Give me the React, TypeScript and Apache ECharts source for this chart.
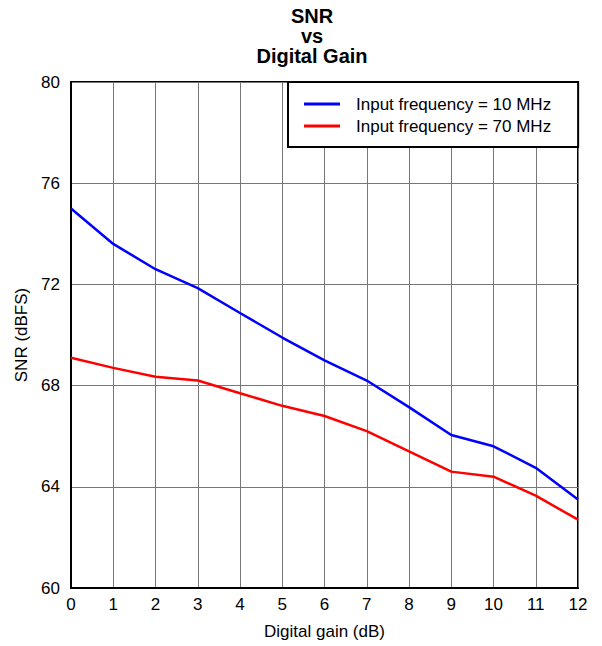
import React, { useEffect, useRef } from "react";
import * as echarts from "echarts";

const gainDb = [0, 1, 2, 3, 4, 5, 6, 7, 8, 9, 10, 11, 12];
const snr10MHz = [75.0, 73.6, 72.6, 71.85, 70.87, 69.9, 69.0, 68.2, 67.15, 66.05, 65.6, 64.75, 63.5];
const snr70MHz = [69.1, 68.7, 68.35, 68.2, 67.7, 67.2, 66.8, 66.2, 65.4, 64.6, 64.4, 63.65, 62.7];
const seriesNames = ["Input frequency = 10 MHz", "Input frequency = 70 MHz"];
const titleText = "SNR\nvs\nDigital Gain";

const FONT = "'Liberation Sans', Arial, Helvetica, sans-serif";

export default function App() {
  const ref = useRef<HTMLDivElement>(null);
  useEffect(() => {
    if (!ref.current) return;
    const chart = echarts.init(ref.current, undefined, { renderer: "svg" });
    const pair = (ys: number[]) => gainDb.map((x, i) => [x, ys[i]]);
    chart.setOption({
      animation: false,
      backgroundColor: "#ffffff",
      title: {
        text: titleText,
        left: 312,
        top: 6,
        padding: 0,
        textAlign: "center",
        textStyle: {
          fontFamily: FONT,
          fontSize: 20,
          fontWeight: "bold",
          lineHeight: 20,
          color: "#000",
        },
      },
      legend: {
        orient: "vertical",
        left: 288,
        top: 82,
        padding: [11, 27, 10, 16],
        itemGap: 0,
        itemWidth: 36,
        itemHeight: 3,
        icon: "rect",
        backgroundColor: "#fff",
        borderColor: "#000",
        borderWidth: 2,
        borderRadius: 0,
        itemStyle: { borderWidth: 0 },
        textStyle: {
          fontFamily: FONT,
          fontSize: 17,
          lineHeight: 22,
          color: "#000",
          padding: [0, 0, 0, 11],
        },
        data: seriesNames,
      },
      grid: {
        left: 71,
        right: 24,
        top: 82,
        bottom: 58,
        show: true,
        borderColor: "#000",
        borderWidth: 2,
        backgroundColor: "transparent",
      },
      xAxis: {
        type: "value",
        min: 0,
        max: 12,
        interval: 1,
        name: "Digital gain (dB)",
        nameLocation: "middle",
        nameGap: 35,
        nameTextStyle: { fontFamily: FONT, fontSize: 17, color: "#000" },
        axisLine: { show: true, lineStyle: { color: "#000", width: 2 } },
        axisTick: { show: false },
        axisLabel: { fontFamily: FONT, fontSize: 17, color: "#000", margin: 8 },
        splitLine: { show: true, lineStyle: { color: "#777", width: 1 } },
      },
      yAxis: {
        type: "value",
        min: 60,
        max: 80,
        interval: 4,
        name: "SNR (dBFS)",
        nameLocation: "middle",
        nameGap: 36,
        nameTextStyle: { fontFamily: FONT, fontSize: 17, color: "#000" },
        axisLine: { show: true, lineStyle: { color: "#000", width: 2 } },
        axisTick: { show: false },
        axisLabel: { fontFamily: FONT, fontSize: 17, color: "#000", margin: 11 },
        splitLine: { show: true, lineStyle: { color: "#777", width: 1 } },
      },
      series: [
        {
          name: seriesNames[0],
          type: "line",
          data: pair(snr10MHz),
          showSymbol: false,
          symbol: "none",
          color: "#0000ff",
          lineStyle: { color: "#0000ff", width: 2.5 },
          z: 3,
        },
        {
          name: seriesNames[1],
          type: "line",
          data: pair(snr70MHz),
          showSymbol: false,
          symbol: "none",
          color: "#ff0000",
          lineStyle: { color: "#ff0000", width: 2.5 },
          z: 2,
        },
      ],
    });
    return () => chart.dispose();
  }, []);
  return <div ref={ref} style={{ width: 602, height: 646, position: "absolute", left: 0, top: 0 }} />;
}
